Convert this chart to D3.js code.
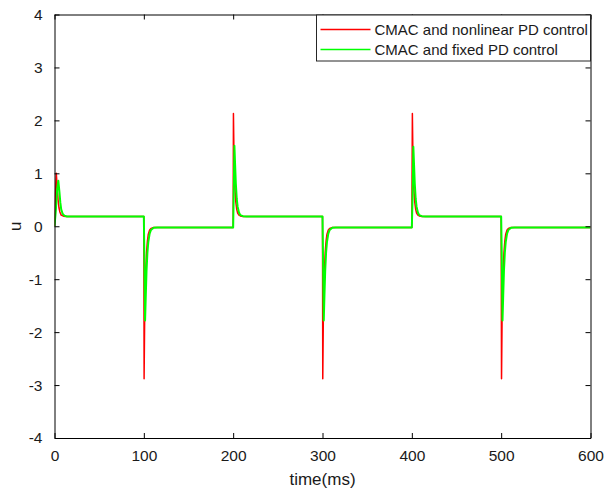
<!DOCTYPE html>
<html>
<head>
<meta charset="utf-8">
<script src="https://cdn.jsdelivr.net/npm/d3@7"></script>
<style>
  body { margin: 0; background: #fff; }
  text { font-family: "Liberation Sans", Arial, sans-serif; fill: #1a1a1a; }
</style>
</head>
<body>
<div id="chart"></div>
<script>
// time axis ticks and value ticks
var xTicks = [0, 100, 200, 300, 400, 500, 600];
var yTicks = [-4, -3, -2, -1, 0, 1, 2, 3, 4];

// CMAC and nonlinear PD control (red)
var redTime = [0, 1, 2, 3, 4, 5, 6, 7.5, 10, 13,
  100, 100.3, 101, 102, 103, 104, 105, 106.5, 108, 111,
  200, 200.3, 201, 202, 203, 204, 205, 206.5, 208, 211,
  300, 300.3, 301, 302, 303, 304, 305, 306.5, 308, 311,
  400, 400.6, 401.3, 402.3, 403.3, 404.3, 405.3, 406.8, 408.3, 411.3,
  500, 500.4, 501.1, 502.1, 503.1, 504.1, 505.1, 506.6, 508.1, 511.1,
  600];
var redU = [0, 0.55, 1.0, 0.75, 0.5, 0.35, 0.27, 0.21, 0.19, 0.185,
  0.185, -2.88, -1.6, -0.9, -0.5, -0.28, -0.15, -0.07, -0.04, -0.025,
  -0.025, 2.13, 1.2, 0.7, 0.45, 0.32, 0.25, 0.21, 0.195, 0.185,
  0.185, -2.88, -1.6, -0.9, -0.5, -0.28, -0.15, -0.07, -0.04, -0.025,
  -0.025, 2.13, 1.2, 0.7, 0.45, 0.32, 0.25, 0.21, 0.195, 0.185,
  0.185, -2.88, -1.6, -0.9, -0.5, -0.28, -0.15, -0.07, -0.04, -0.025,
  -0.025];

// CMAC and fixed PD control (green)
var greenTime = [0, 1.5, 3, 4.3, 5.5, 6.5, 7.5, 9, 11, 14,
  100, 100.6, 101.4, 102.2, 103, 104, 105, 106.5, 108, 111, 115,
  200, 200.6, 201.4, 202.2, 203, 204, 205, 206.5, 208, 211, 215,
  300, 300.6, 301.4, 302.2, 303, 304, 305, 306.5, 308, 311, 315,
  400, 400.9, 401.7, 402.5, 403.3, 404.3, 405.3, 406.8, 408.3, 411.3, 415.3,
  500, 500.7, 501.5, 502.3, 503.1, 504.1, 505.1, 506.6, 508.1, 511.1, 515.1,
  600];
var greenU = [0, 0.3, 0.7, 0.86, 0.65, 0.45, 0.32, 0.24, 0.2, 0.185,
  0.185, -0.6, -1.78, -1.3, -0.85, -0.5, -0.3, -0.14, -0.07, -0.03, -0.025,
  -0.025, 0.6, 1.52, 1.15, 0.8, 0.52, 0.37, 0.26, 0.21, 0.19, 0.185,
  0.185, -0.6, -1.78, -1.3, -0.85, -0.5, -0.3, -0.14, -0.07, -0.03, -0.025,
  -0.025, 0.6, 1.5, 1.15, 0.8, 0.52, 0.37, 0.26, 0.21, 0.19, 0.185,
  0.185, -0.6, -1.78, -1.3, -0.85, -0.5, -0.3, -0.14, -0.07, -0.03, -0.025,
  -0.025];

var legendLabels = ["CMAC and nonlinear PD control", "CMAC and fixed PD control"];
var colors = ["#ff0000", "#00ff00"];

// set the dimensions and margins of the graph
var W = 614, H = 492;
var margin = { top: 14.5, right: 23.5, bottom: 54, left: 54.5 },
    width = W - margin.left - margin.right,
    height = H - margin.top - margin.bottom;

var svg = d3.select("#chart")
    .append("svg")
    .attr("width", W)
    .attr("height", H)
    .append("g")
    .attr("transform", "translate(" + margin.left + "," + margin.top + ")");

var x = d3.scaleLinear().domain([0, 600]).range([0, width]);
var y = d3.scaleLinear().domain([-4, 4]).range([height, 0]);

svg.append("defs").append("clipPath").attr("id", "clip")
    .append("rect").attr("width", width).attr("height", height);

// lines
var series = [
  { t: redTime, u: redU, color: colors[0], w: 1.5 },
  { t: greenTime, u: greenU, color: colors[1], w: 2 }
];
var line = d3.line()
    .x(function (d) { return x(d[0]) })
    .y(function (d) { return y(d[1]) });

series.forEach(function (s) {
  var pts = s.t.map(function (t, i) { return [t, s.u[i]] });
  svg.append("path")
      .datum(pts)
      .attr("clip-path", "url(#clip)")
      .attr("fill", "none")
      .attr("stroke", s.color)
      .attr("stroke-width", s.w)
      .attr("stroke-linejoin", "round")
      .attr("d", line);
});

// axes (inward ticks, mirrored on top/right like MATLAB's box)
var tickLen = 5;
var plain = function (d) { return String(d) };   // keep ASCII hyphen for negatives
function styleAxis(g) {
  g.selectAll("path").attr("stroke", "#000").attr("stroke-width", 1);
  g.selectAll("line").attr("stroke", "#000");
  g.selectAll("text").attr("font-size", "15.5px").attr("fill", "#1a1a1a")
      .attr("font-family", "Liberation Sans, Arial, sans-serif");
}
svg.append("g")
    .attr("transform", "translate(0," + height + ")")
    .call(d3.axisBottom(x).tickValues(xTicks).tickFormat(plain).tickSizeInner(-tickLen).tickSizeOuter(0).tickPadding(12))
    .call(styleAxis);
svg.append("g")
    .call(d3.axisTop(x).tickValues(xTicks).tickSizeInner(-tickLen).tickSizeOuter(0).tickFormat(""))
    .call(styleAxis);
svg.append("g")
    .call(d3.axisLeft(y).tickValues(yTicks).tickFormat(plain).tickSizeInner(-tickLen).tickSizeOuter(0).tickPadding(12))
    .call(styleAxis);
svg.append("g")
    .attr("transform", "translate(" + width + ",0)")
    .call(d3.axisRight(y).tickValues(yTicks).tickSizeInner(-tickLen).tickSizeOuter(0).tickFormat(""))
    .call(styleAxis);

// axis labels
svg.append("text")
    .attr("text-anchor", "middle")
    .attr("x", width / 2)
    .attr("y", height + 47)
    .attr("font-size", "17px")
    .text("time(ms)");
svg.append("text")
    .attr("text-anchor", "middle")
    .attr("transform", "translate(" + (-34) + "," + (height / 2) + ") rotate(-90)")
    .attr("font-size", "17px")
    .text("u");

// legend
var lg = svg.append("g").attr("transform", "translate(" + (width - 274) + ",0.5)");
lg.append("rect")
    .attr("width", 274).attr("height", 46)
    .attr("fill", "#fff").attr("stroke", "#262626").attr("stroke-width", 1);
legendLabels.forEach(function (lab, i) {
  var ly = 14.5 + i * 20;
  lg.append("line")
      .attr("x1", 4).attr("x2", 54).attr("y1", ly).attr("y2", ly)
      .attr("stroke", colors[i]).attr("stroke-width", 1.5);
  lg.append("text")
      .attr("x", 58).attr("y", ly + 5.5)
      .attr("font-size", "15px")
      .text(lab);
});
</script>
</body>
</html>
